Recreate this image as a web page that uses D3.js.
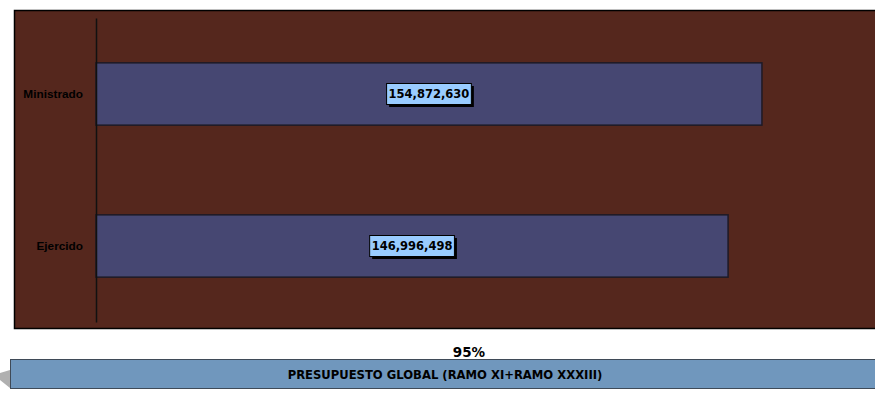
<!DOCTYPE html>
<html><head><meta charset="utf-8">
<script src="https://cdn.jsdelivr.net/npm/d3@7"></script>
<style>html,body{margin:0;padding:0;background:#fff;}svg{display:block;}</style>
</head><body>
<svg id="c" width="875" height="394"></svg>
<script>
const categories = ["Ministrado", "Ejercido"];
const values = [154872630, 146996498];
const percentLabel = "95%";
const bannerTitle = "PRESUPUESTO GLOBAL (RAMO XI+RAMO XXXIII)";
const xMax = 180000000;

const svg = d3.select("#c");
const font = "Arial, 'Liberation Sans', sans-serif";
const font2 = "'DejaVu Sans', Verdana, sans-serif";

// outer frame
svg.append("rect").attr("x", 14.5).attr("y", 10.5).attr("width", 870).attr("height", 318)
  .attr("fill", "#55271D").attr("stroke", "#000").attr("stroke-width", 1.5);

const x = d3.scaleLinear().domain([0, xMax]).range([96, 870]);
const y = d3.scaleBand().domain(categories).range([18, 322]).paddingInner(0.59).paddingOuter(0.295);

// bars
svg.selectAll(".bar").data(categories).join("rect")
  .attr("x", x(0)).attr("y", d => y(d))
  .attr("width", (d, i) => x(values[i]) - x(0)).attr("height", y.bandwidth())
  .attr("fill", "#464772").attr("stroke", "#1E1A26").attr("stroke-width", 1.5);

// y axis
const yAxis = svg.append("g").attr("transform", `translate(${x(0)},0)`)
  .call(d3.axisLeft(y).tickSize(0).tickPadding(13));
yAxis.select(".domain").attr("stroke", "#111").attr("stroke-width", 1.5);
yAxis.selectAll("text").attr("font-family", font).attr("font-size", 11.8).attr("font-weight", "bold").attr("fill", "#000");

// value labels
const fmt = d3.format(",");
categories.forEach((c, i) => {
  const cx = (x(0) + x(values[i])) / 2, cy = y(c) + y.bandwidth() / 2;
  const g = svg.append("g");
  const t = g.append("text").attr("x", cx).attr("y", cy).attr("text-anchor", "middle").attr("dy", "0.36em")
    .attr("font-family", font2).attr("font-size", 11.5).attr("font-weight", "bold").attr("fill", "#000")
    .text(fmt(values[i]));
  const bb = t.node().getBBox();
  const w = bb.width + 4, h = 21;
  g.insert("rect", "text").attr("x", cx - w / 2 + 2.5).attr("y", cy - h / 2 + 2.5).attr("width", w).attr("height", h).attr("fill", "#000");
  g.insert("rect", "text").attr("x", cx - w / 2).attr("y", cy - h / 2).attr("width", w).attr("height", h)
    .attr("fill", "#99CCFF").attr("stroke", "#000").attr("stroke-width", 1);
});

// percent label
svg.append("text").attr("x", 469).attr("y", 357).attr("text-anchor", "middle")
  .attr("font-family", font2).attr("font-size", 13.5).attr("font-weight", "bold").text(percentLabel);

// banner shadow
svg.append("polygon").attr("points", "10,370 0,373 0,380 10,388").attr("fill", "#B0B0B0");
svg.append("rect").attr("x", 10.5).attr("y", 359.5).attr("width", 870).attr("height", 29)
  .attr("fill", "#7097BD").attr("stroke", "#3F4A57").attr("stroke-width", 1);
svg.append("text").attr("x", 445).attr("y", 375).attr("dy", "0.36em").attr("text-anchor", "middle")
  .attr("font-family", font2).attr("font-size", 11.6).attr("font-weight", "bold").text(bannerTitle);
</script>
</body></html>
